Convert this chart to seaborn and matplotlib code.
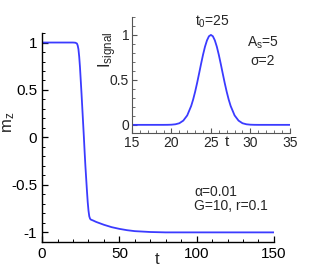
import numpy as np
import pandas as pd
import seaborn as sns
import matplotlib.pyplot as plt
from matplotlib.ticker import MultipleLocator

# -------------------------------
# Data
# -------------------------------
t_main = [0, 10, 20, 21.5, 22.5, 23.0, 23.5, 24.0, 24.5, 25.0, 25.5, 26.0, 26.5,
          27.0, 27.5, 28.0, 28.5, 29.0, 29.5, 30.0, 30.5, 31.0, 31.5, 33, 35,
          40, 45, 50, 55, 60, 70, 80, 100, 150]
mz = [1.0, 1.0, 1.0, 0.998, 0.99, 0.97, 0.93, 0.85, 0.74, 0.60, 0.46, 0.31, 0.16,
      0.01, -0.15, -0.30, -0.43, -0.56, -0.68, -0.77, -0.83, -0.855, -0.865, -0.875, -0.89,
      -0.92, -0.945, -0.963, -0.977, -0.987, -0.996, -1.0, -1.0, -1.0]

t_sig = [15, 17, 19, 19.5, 20, 20.5, 21, 21.5, 22, 22.5, 22.75, 23, 23.25, 23.5, 23.75,
         24, 24.25, 24.5, 24.75, 25, 25.25, 25.5, 25.75, 26, 26.25, 26.5, 26.75, 27,
         27.25, 27.5, 28, 28.5, 29, 29.5, 30, 30.5, 31, 33, 35]
i_sig = [0.0, 0.0, 0.0001, 0.0005, 0.0019, 0.0063, 0.018, 0.047, 0.105, 0.210, 0.282,
         0.368, 0.465, 0.570, 0.677, 0.779, 0.869, 0.939, 0.985, 1.0, 0.985, 0.939,
         0.869, 0.779, 0.677, 0.570, 0.465, 0.368, 0.282, 0.210, 0.105, 0.047,
         0.018, 0.0063, 0.0019, 0.0005, 0.0001, 0.0, 0.0]

df_main = pd.DataFrame({"t": t_main, "mz": mz})
df_sig = pd.DataFrame({"t": t_sig, "I": i_sig})

# -------------------------------
# Style
# -------------------------------
sns.set_style("ticks")
plt.rcParams["font.family"] = ["Liberation Sans", "DejaVu Sans"]
plt.rcParams["mathtext.fontset"] = "custom"
plt.rcParams["mathtext.rm"] = "Liberation Sans"
plt.rcParams["mathtext.it"] = "Liberation Sans"

line_color = "#3b3bff"

fig = plt.figure(figsize=(3.12, 2.73), dpi=100)

# -------------------------------
# Main plot
# -------------------------------
ax = fig.add_axes([0.135, 0.114, 0.743, 0.765])
sns.lineplot(data=df_main, x="t", y="mz", ax=ax, color=line_color, lw=1.3)
ax.set_xlim(0, 150)
ax.set_ylim(-1.1, 1.1)
ax.set_xticks([0, 50, 100, 150])
ax.set_yticks([-1, -0.5, 0, 0.5, 1])
ax.set_yticklabels(["-1", "-0.5", "0", "0.5", "1"])
ax.xaxis.set_minor_locator(MultipleLocator(10))
ax.yaxis.set_minor_locator(MultipleLocator(0.1))
ax.tick_params(which="both", direction="in", labelsize=11, colors="black")
ax.tick_params(which="major", length=4, width=0.9)
ax.tick_params(which="minor", length=2.5, width=0.7)
ax.set_xlabel("")
ax.set_ylabel("")
sns.despine(ax=ax)
for s in ["left", "bottom"]:
    ax.spines[s].set_linewidth(1.0)
    ax.spines[s].set_color("black")

fig.text(0.03, 0.553, r"m$_\mathregular{z}$", rotation=90, fontsize=12,
         ha="center", va="center")
fig.text(0.503, 0.048, "t", fontsize=12, ha="center", va="center")
fig.text(0.622, 0.297, "α=0.01", fontsize=10, ha="left", va="center")
fig.text(0.622, 0.245, "G=10, r=0.1", fontsize=10, ha="left", va="center")

# -------------------------------
# Inset
# -------------------------------
ins = fig.add_axes([0.423, 0.513, 0.506, 0.425])
sns.lineplot(data=df_sig, x="t", y="I", ax=ins, color=line_color, lw=1.3)
ins.set_xlim(15, 35)
ins.set_ylim(-0.09, 1.2)
ins.set_xticks([15, 20, 25, 30, 35])
ins.set_xticklabels(["15", "20", "25", "30", "35"])
ins.set_yticks([0, 0.5, 1])
ins.set_yticklabels(["0", "0.5", "1"])
ins.xaxis.set_minor_locator(MultipleLocator(1))
ins.yaxis.set_minor_locator(MultipleLocator(0.1))
ins.tick_params(which="both", direction="in", labelsize=10, pad=2)
ins.tick_params(which="major", length=3.5, width=0.8, color="#555555")
ins.tick_params(which="minor", length=2, width=0.6, color="#555555")
ins.set_xlabel("")
ins.set_ylabel("")
ins.patch.set_alpha(0)
sns.despine(ax=ins)
for s in ["left", "bottom"]:
    ins.spines[s].set_linewidth(0.8)
    ins.spines[s].set_color("#555555")

fig.text(0.345, 0.817, r"I$_\mathregular{signal}$", rotation=90, fontsize=12,
         ha="center", va="center")
fig.text(0.728, 0.48, "t", fontsize=11, ha="center", va="center")
fig.text(0.68, 0.92, r"t$_\mathregular{0}$=25", fontsize=10, ha="center", va="center")
fig.text(0.843, 0.843, r"A$_\mathregular{s}$=5", fontsize=10, ha="center", va="center")
fig.text(0.843, 0.777, "σ=2", fontsize=10, ha="center", va="center")

plt.savefig("out.png", dpi=100)
plt.close()
